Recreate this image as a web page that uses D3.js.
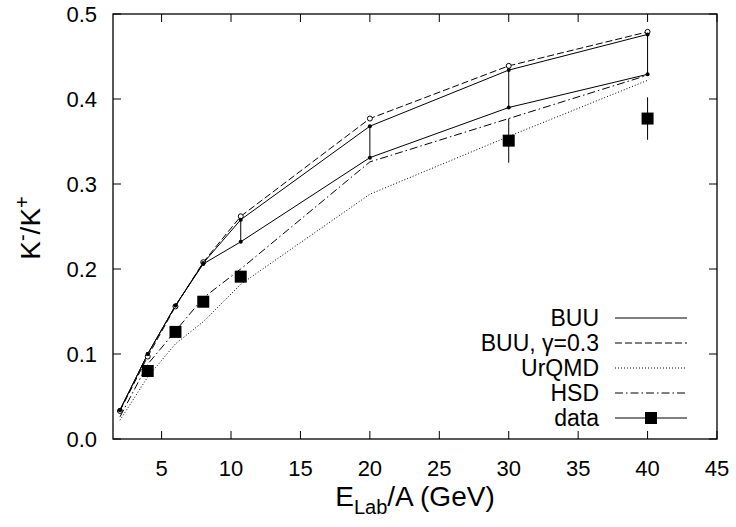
<!DOCTYPE html>
<html><head><meta charset="utf-8">
<script src="https://cdn.jsdelivr.net/npm/d3@7"></script>
<style>
html,body{margin:0;padding:0;background:#fff;}
text{font-family:"Liberation Sans",Arial,Helvetica,sans-serif;fill:#000;}
</style></head>
<body>
<svg id="c" width="736" height="527"></svg>
<script>
// ---- data ----
const energies = [2, 4, 6, 8, 10.7, 20, 30, 40];
const buuUpper = [0.034, 0.100, 0.157, 0.207, 0.258, 0.368, 0.434, 0.476];
const buuLower = [0.034, 0.100, 0.157, 0.206, 0.232, 0.331, 0.390, 0.429];
const buuGamma = [0.033, 0.097, 0.156, 0.208, 0.262, 0.377, 0.439, 0.479];
const urqmd    = [0.022, 0.073, 0.112, 0.138, 0.182, 0.288, 0.356, 0.422];
const hsd      = [0.026, 0.088, 0.127, 0.166, 0.200, 0.326, 0.377, 0.428];
const bandEnergies = [10.7, 20, 30, 40];
const dataE   = [4, 6, 8, 10.7, 30, 40];
const dataV   = [0.080, 0.126, 0.1615, 0.191, 0.351, 0.377];
const dataErr = [0.005, 0.005, 0.005, 0.005, 0.026, 0.025];
const xTicks = [5, 10, 15, 20, 25, 30, 35, 40, 45];
const yTicks = [0, 0.1, 0.2, 0.3, 0.4, 0.5];
const legendLabels = ["BUU", "BUU, \u03b3=0.3", "UrQMD", "HSD", "data"];

// ---- layout ----
const svg = d3.select("#c");
const L = 113, R = 717, T = 14, B = 439;
const x = d3.scaleLinear().domain([1.5, 45]).range([L, R]);
const y = d3.scaleLinear().domain([0, 0.5]).range([B, T]);

// ticks (inside, mirrored)
const tk = 8;
const ax = svg.append("g").attr("stroke", "#000").attr("stroke-width", 1);
xTicks.forEach(v => {
  ax.append("line").attr("x1", x(v)).attr("x2", x(v)).attr("y1", B).attr("y2", B - tk);
  ax.append("line").attr("x1", x(v)).attr("x2", x(v)).attr("y1", T).attr("y2", T + tk);
});
yTicks.forEach(v => {
  ax.append("line").attr("x1", L).attr("x2", L + tk).attr("y1", y(v)).attr("y2", y(v));
  ax.append("line").attr("x1", R).attr("x2", R - tk).attr("y1", y(v)).attr("y2", y(v));
});
svg.append("rect").attr("x", L).attr("y", T).attr("width", R - L).attr("height", B - T)
  .attr("fill", "none").attr("stroke", "#000").attr("stroke-width", 1.3);

// tick labels
svg.append("g").selectAll("text").data(xTicks).join("text")
  .attr("x", d => x(d)).attr("y", B + 37).attr("text-anchor", "middle")
  .attr("font-size", 22).text(d => d);
svg.append("g").selectAll("text").data(yTicks).join("text")
  .attr("x", 97).attr("y", d => y(d) + 8).attr("text-anchor", "end")
  .attr("font-size", 22).text(d => d.toFixed(1));

// axis titles
const xl = svg.append("text").attr("x", (L + R) / 2).attr("y", 506)
  .attr("text-anchor", "middle").attr("font-size", 28);
xl.append("tspan").text("E");
xl.append("tspan").attr("dy", 8).attr("font-size", 20).text("Lab");
xl.append("tspan").attr("dy", -8).text("/A (GeV)");

const yl = svg.append("text").attr("transform", "translate(40,228) rotate(-90)")
  .attr("text-anchor", "middle").attr("font-size", 28);
yl.append("tspan").text("K");
yl.append("tspan").attr("dy", -11).attr("font-size", 20).text("-");
yl.append("tspan").attr("dy", 11).text("/K");
yl.append("tspan").attr("dy", -11).attr("font-size", 20).text("+");

// lines
const line = arr => d3.line().x((d, i) => x(energies[i])).y(d => y(d))(arr);
const g = svg.append("g").attr("fill", "none").attr("stroke", "#000").attr("stroke-width", 1);
g.append("path").attr("d", line(urqmd)).attr("stroke-dasharray", "1,2");
g.append("path").attr("d", line(hsd)).attr("stroke-dasharray", "8,3,1.5,3");
g.append("path").attr("d", line(buuGamma)).attr("stroke-dasharray", "7,3");
g.append("path").attr("d", line(buuLower));
g.append("path").attr("d", line(buuUpper));
// band vertical connectors
bandEnergies.forEach(e => {
  const i = energies.indexOf(e);
  g.append("line").attr("x1", x(e)).attr("x2", x(e))
    .attr("y1", y(buuUpper[i])).attr("y2", y(buuLower[i]));
});
// markers
svg.append("g").selectAll("circle").data(buuGamma).join("circle")
  .attr("cx", (d, i) => x(energies[i])).attr("cy", d => y(d)).attr("r", 2.5)
  .attr("fill", "#fff").attr("stroke", "#000").attr("stroke-width", 1);
svg.append("g").selectAll("circle").data(buuUpper).join("circle")
  .attr("cx", (d, i) => x(energies[i])).attr("cy", d => y(d)).attr("r", 2).attr("fill", "#000");
svg.append("g").selectAll("circle").data(buuLower).join("circle")
  .attr("cx", (d, i) => x(energies[i])).attr("cy", d => y(d)).attr("r", 2).attr("fill", "#000");

// data with error bars
const dg = svg.append("g");
dataE.forEach((e, i) => {
  dg.append("line").attr("x1", x(e)).attr("x2", x(e))
    .attr("y1", y(dataV[i] - dataErr[i])).attr("y2", y(dataV[i] + dataErr[i]))
    .attr("stroke", "#000").attr("stroke-width", 1);
  dg.append("rect").attr("x", x(e) - 6).attr("y", y(dataV[i]) - 6)
    .attr("width", 12).attr("height", 12).attr("fill", "#000");
});

// legend
const lg = svg.append("g");
const dashes = [null, "7,3", "1,2", "8,3,1.5,3", null];
legendLabels.forEach((lab, i) => {
  const yy = 318 + i * 25;
  lg.append("text").attr("x", 599).attr("y", yy + 8).attr("text-anchor", "end")
    .attr("font-size", 23).text(lab);
  const ln = lg.append("line").attr("x1", 615).attr("x2", 687).attr("y1", yy).attr("y2", yy)
    .attr("stroke", "#000").attr("stroke-width", 1);
  if (dashes[i]) ln.attr("stroke-dasharray", dashes[i]);
  if (i === 4) lg.append("rect").attr("x", 651 - 6).attr("y", yy - 6)
    .attr("width", 12).attr("height", 12).attr("fill", "#000");
});
</script>
</body></html>
